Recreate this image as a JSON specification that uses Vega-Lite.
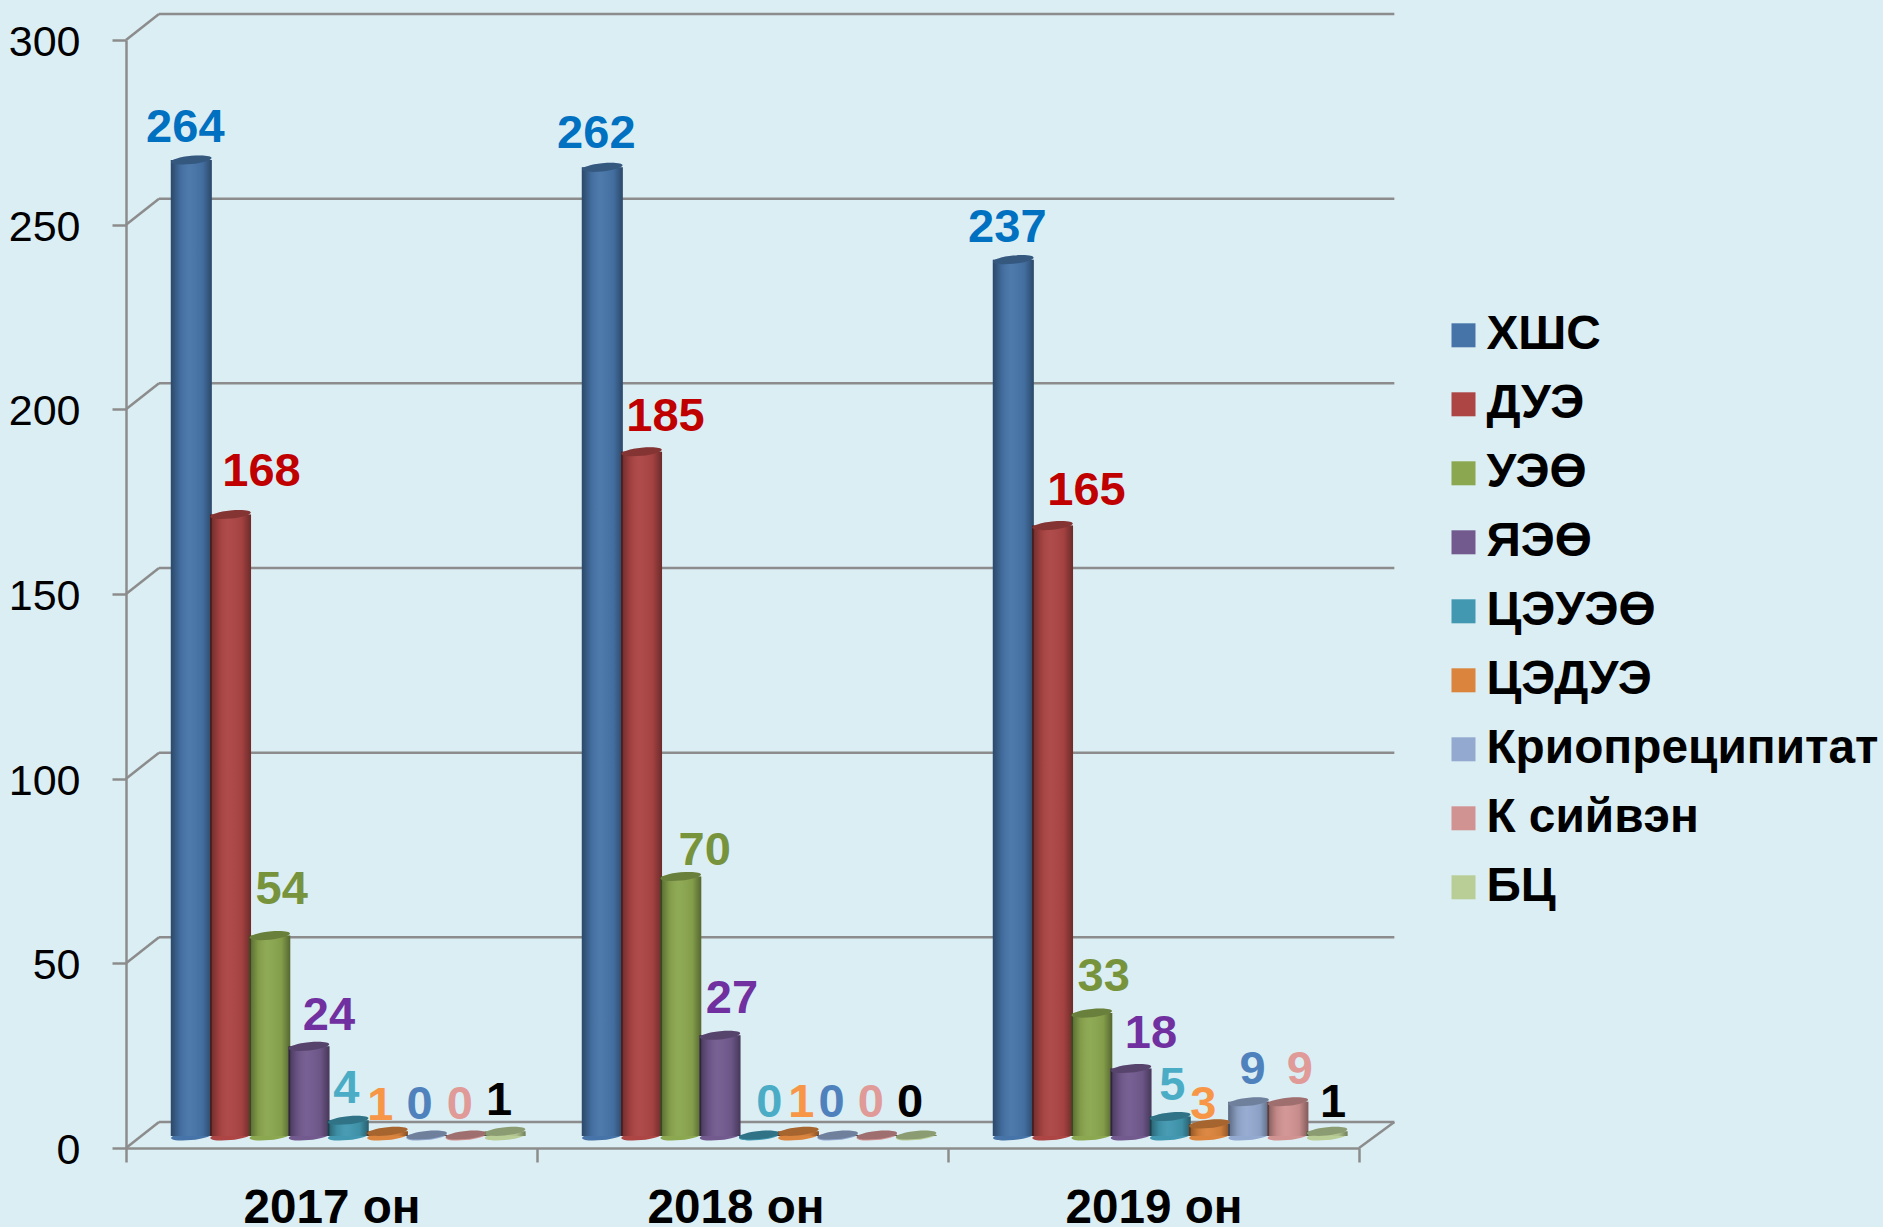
{
"$schema":"https://vega.github.io/schema/vega-lite/v6.json",
"width":1233,"height":1108,
"autosize":{"type":"none"},
"padding":{"left":126,"top":40,"right":524,"bottom":79},
"background":"#dbeef4",
"view":{"stroke":null},
"config":{"font":"Liberation Sans"},
"params":[
{"name":"labelShift","value":{
"2017 он|ХШС":[-6,-44.5],"2017 он|ДУЭ":[31,-55.6],"2017 он|УЭӨ":[12,-58.8],"2017 он|ЯЭӨ":[20,-43.5],"2017 он|ЦЭУЭӨ":[-2,-44],"2017 он|ЦЭДУЭ":[-7,-38.4],"2017 он|Криопреципитат":[-7,-43],"2017 он|К сийвэн":[-6,-43],"2017 он|БЦ":[-6,-43],
"2018 он|ХШС":[-6,-45.9],"2018 он|ДУЭ":[24,-48],"2018 он|УЭӨ":[24,-38],"2018 он|ЯЭӨ":[12,-49],"2018 он|ЦЭУЭӨ":[10,-44.6],"2018 он|ЦЭДУЭ":[3,-41],"2018 он|Криопреципитат":[-6,-44.6],"2018 он|К сийвэн":[-6,-44.6],"2018 он|БЦ":[-6,-44.6],
"2019 он|ХШС":[-6,-44.5],"2019 он|ДУЭ":[34,-47.5],"2019 он|УЭӨ":[12,-48.8],"2019 он|ЯЭӨ":[20,-47.7],"2019 он|ЦЭУЭӨ":[2,-44],"2019 он|ЦЭДУЭ":[-6,-32],"2019 он|Криопреципитат":[4,-45],"2019 он|К сийвэн":[12,-45],"2019 он|БЦ":[6,-41]
}},
{"name":"labelColor","value":{"ХШС":"#0070c0","ДУЭ":"#c00000","УЭӨ":"#77933c","ЯЭӨ":"#7030a0","ЦЭУЭӨ":"#4bacc6","ЦЭДУЭ":"#f79646","Криопреципитат":"#4f81bd","К сийвэн":"#e09a98","БЦ":"#000000"}}
],
"datasets":{
"grid":[{"v":0,"vBack":7.04},{"v":50,"vBack":57.04},{"v":100,"vBack":107.04},{"v":150,"vBack":157.04},{"v":200,"vBack":207.04},{"v":250,"vBack":257.04},{"v":300,"vBack":307.04}],
"rows":[
{"year":"2017 он","series":"ХШС","value":264},{"year":"2017 он","series":"ДУЭ","value":168},{"year":"2017 он","series":"УЭӨ","value":54},{"year":"2017 он","series":"ЯЭӨ","value":24},{"year":"2017 он","series":"ЦЭУЭӨ","value":4},{"year":"2017 он","series":"ЦЭДУЭ","value":1},{"year":"2017 он","series":"Криопреципитат","value":0},{"year":"2017 он","series":"К сийвэн","value":0},{"year":"2017 он","series":"БЦ","value":1},
{"year":"2018 он","series":"ХШС","value":262},{"year":"2018 он","series":"ДУЭ","value":185},{"year":"2018 он","series":"УЭӨ","value":70},{"year":"2018 он","series":"ЯЭӨ","value":27},{"year":"2018 он","series":"ЦЭУЭӨ","value":0},{"year":"2018 он","series":"ЦЭДУЭ","value":1},{"year":"2018 он","series":"Криопреципитат","value":0},{"year":"2018 он","series":"К сийвэн","value":0},{"year":"2018 он","series":"БЦ","value":0},
{"year":"2019 он","series":"ХШС","value":237},{"year":"2019 он","series":"ДУЭ","value":165},{"year":"2019 он","series":"УЭӨ","value":33},{"year":"2019 он","series":"ЯЭӨ","value":18},{"year":"2019 он","series":"ЦЭУЭӨ","value":5},{"year":"2019 он","series":"ЦЭДУЭ","value":3},{"year":"2019 он","series":"Криопреципитат","value":9},{"year":"2019 он","series":"К сийвэн","value":9},{"year":"2019 он","series":"БЦ","value":1}
]},
"resolve":{"scale":{"x":"independent"}},
"layer":[
{"data":{"name":"grid"},
 "layer":[
 {"mark":{"type":"rule","color":"#8c8c8c","strokeWidth":2.5},
  "encoding":{"x":{"datum":0.0803,"type":"quantitative","scale":{"domain":[0,3]},"axis":null},"x2":{"datum":3.086},
   "y":{"field":"vBack","type":"quantitative","scale":{"domain":[0,300],"nice":false}}}},
 {"mark":{"type":"rule","color":"#8c8c8c","strokeWidth":2.5},
  "encoding":{"x":{"datum":0,"type":"quantitative","scale":{"domain":[0,3]},"axis":null},"x2":{"datum":0.0803},
   "y":{"field":"v","type":"quantitative","scale":{"domain":[0,300],"nice":false}},"y2":{"field":"vBack"}}},
 {"transform":[{"filter":"datum.v===0"}],"mark":{"type":"rule","color":"#8c8c8c","strokeWidth":2.5},
  "encoding":{"x":{"datum":3,"type":"quantitative","scale":{"domain":[0,3]},"axis":null},"x2":{"datum":3.086},
   "y":{"field":"v","type":"quantitative","scale":{"domain":[0,300],"nice":false}},"y2":{"field":"vBack"}}}
 ]},
{"data":{"name":"rows"},
 "encoding":{
  "x":{"field":"year","type":"nominal","sort":null,"scale":{"paddingInner":0,"paddingOuter":0},
   "axis":{"title":null,"labelAngle":0,"labelFont":"Liberation Sans","labelFontWeight":"bold","labelFontSize":47.6,"labelColor":"#000000","labelPadding":22,"tickBand":"extent","tickSize":14,"tickWidth":2.5,"tickColor":"#8c8c8c","domainColor":"#8c8c8c","domainWidth":2.5,"grid":false,
    "labelOffset":{"condition":{"test":"datum.value==='2018 он'","value":-7},"value":0}}},
  "xOffset":{"field":"series","type":"nominal","scale":{"domain":["ХШС","ДУЭ","УЭӨ","ЯЭӨ","ЦЭУЭӨ","ЦЭДУЭ","Криопреципитат","К сийвэн","БЦ"],"range":[45.7,398.7],"paddingInner":0,"paddingOuter":0}},
  "y":{"field":"value","type":"quantitative","stack":null,"scale":{"domain":[0,300],"nice":false},
   "axis":{"title":null,"values":[0,50,100,150,200,250,300],"grid":false,"labelFont":"Liberation Sans","labelFontSize":43,"labelColor":"#000000","labelPadding":32,"labelOffset":2.4,"tickSize":14,"tickWidth":2.5,"tickColor":"#8c8c8c","domainColor":"#8c8c8c","domainWidth":2.5}}
 },
 "layer":[
 {"mark":{"type":"point","filled":true,"opacity":1,"size":1640,"shape":"M-1,0.1 A1,0.2 -6 1,1 1,-0.1 A1,0.2 -6 1,1 -1,0.1 Z","yOffset":-12},
  "encoding":{"y":{"datum":0,"type":"quantitative"},"color":{"field":"series","type":"nominal",
   "legend":{"title":null,"orient":"none","legendX":1313.6,"legendY":271.4,"symbolType":"square","symbolSize":576,"symbolOpacity":1,"symbolStrokeWidth":0,"labelFont":"Liberation Sans","labelFontWeight":"bold","labelFontSize":47.8,"labelColor":"#000000","labelOffset":-1,"rowPadding":20,"labelLimit":600}, 
   "scale":{"domain":["ХШС","ДУЭ","УЭӨ","ЯЭӨ","ЦЭУЭӨ","ЦЭДУЭ","Криопреципитат","К сийвэн","БЦ"],"range":["#4674a8","#ac4544","#8ba74f","#725a8f","#4198b0","#db843d","#93a9cf","#d19392","#b9cd96"]}}}},
 {"mark":{"type":"bar","width":41,"yOffset":-13,"y2Offset":-12},
  "encoding":{"y2":{"datum":0},"color":{"field":"series","type":"nominal"}}},
 {"mark":{"type":"bar","width":41,"yOffset":-13,"y2Offset":-12,"fill":{"gradient":"linear","x1":0,"y1":0,"x2":1,"y2":0,"stops":[{"offset":0,"color":"rgba(0,0,0,0.38)"},{"offset":0.22,"color":"rgba(0,0,0,0.08)"},{"offset":0.45,"color":"rgba(255,255,255,0.04)"},{"offset":0.78,"color":"rgba(0,0,0,0.06)"},{"offset":1,"color":"rgba(0,0,0,0.38)"}]}},
  "encoding":{"y2":{"datum":0}}},
 {"mark":{"type":"point","filled":true,"opacity":1,"size":1640,"shape":"M-1,0.1 A1,0.2 -6 1,1 1,-0.1 A1,0.2 -6 1,1 -1,0.1 Z","yOffset":-13},
  "encoding":{"color":{"field":"series","type":"nominal"}}},
 {"mark":{"type":"point","filled":true,"color":"#000000","opacity":0.24,"size":1640,"shape":"M-1,0.1 A1,0.2 -6 1,1 1,-0.1 A1,0.2 -6 1,1 -1,0.1 Z","yOffset":-13}},
 {"mark":{"type":"text","font":"Liberation Sans","fontWeight":"bold","fontSize":47,"baseline":"middle","align":"center",
   "dx":{"expr":"labelShift[datum.year+'|'+datum.series][0]"},
   "dy":{"expr":"labelShift[datum.year+'|'+datum.series][1]"},
   "fill":{"expr":"labelColor[datum.series]"}},
  "encoding":{"text":{"field":"value","type":"quantitative"}}}
 ]}
]
}
